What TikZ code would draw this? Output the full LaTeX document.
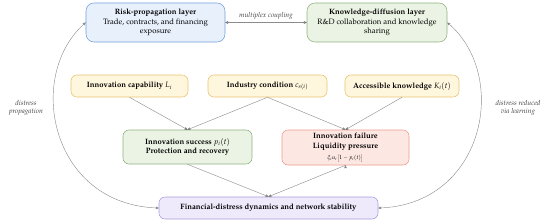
\documentclass[tikz,border=0pt]{standalone}
\usepackage[T1]{fontenc}
\usepackage{mathpazo}
\usetikzlibrary{arrows,positioning}

\definecolor{bluefill}{HTML}{E8F0FC}
\definecolor{blueline}{HTML}{6F9FDB}
\definecolor{greenfill}{HTML}{EBF3E4}
\definecolor{greenline}{HTML}{8FB27C}
\definecolor{yellowfill}{HTML}{FFF6DE}
\definecolor{yellowline}{HTML}{E8C46E}
\definecolor{redfill}{HTML}{FDE7E3}
\definecolor{redline}{HTML}{EE9C90}
\definecolor{violetfill}{HTML}{EEEAFB}
\definecolor{violetline}{HTML}{AA9DDE}
\definecolor{linkgray}{HTML}{8C8C8C}

\begin{document}
\begin{tikzpicture}[>=stealth',x=0.05cm,y=-0.05cm,
    font=\fontsize{11}{13.5}\selectfont,
    box/.style={draw,rounded corners=0.3cm,line width=0.8pt,align=center,inner sep=2pt},
    link/.style={draw=linkgray,line width=0.6pt},
    note/.style={font=\fontsize{10}{12}\selectfont\itshape,align=center,text=black!75}]

    \useasboundingbox (0,0) rectangle (550,223);

    % layers
    \node[box, fill=bluefill, draw=blueline, rounded corners=0.4cm,
          minimum width=6.95cm, minimum height=1.95cm] (risk) at (155.5,22.5)
          {\textbf{Risk-propagation layer}\\Trade, contracts, and financing\\exposure};
    \node[box, fill=greenfill, draw=greenline, rounded corners=0.4cm,
          minimum width=7cm, minimum height=1.95cm] (know) at (377,22.5)
          {\textbf{Knowledge-diffusion layer}\\R\&D collaboration and knowledge\\sharing};

    % drivers
    \node[box, fill=yellowfill, draw=yellowline, minimum width=5.85cm, minimum height=1.1cm]
          (cap) at (129.5,86) {\textbf{Innovation capability} $L_i$};
    \node[box, fill=yellowfill, draw=yellowline, minimum width=5.95cm, minimum height=1.1cm]
          (ind) at (267.5,86) {\textbf{Industry condition} $c_{s(i)}$};
    \node[box, fill=yellowfill, draw=yellowline, minimum width=5.7cm, minimum height=1.1cm]
          (acc) at (402,86) {\textbf{Accessible knowledge} $K_i(t)$};

    % outcomes
    \node[box, fill=greenfill, draw=greenline, minimum width=6.45cm, minimum height=1.7cm]
          (succ) at (187.5,147) {\textbf{Innovation success} $p_i(t)$\\\textbf{Protection and recovery}};
    \node[box, fill=redfill, draw=redline, minimum width=6.35cm, minimum height=1.75cm]
          (fail) at (345.5,147.5) {\textbf{Innovation failure}\\\textbf{Liquidity pressure}\\[2.5pt]
          {\fontsize{8}{9}\selectfont$\xi_i u_i\big[1-p_i(t)\big]$}};

    \node[box, fill=violetfill, draw=violetline, minimum width=10.95cm, minimum height=1.1cm]
          (fin) at (268.5,208) {\textbf{Financial-distress dynamics and network stability}};

    \node[note] (lprop) at (26,108) {distress\\propagation};
    \node[note] (rlearn) at (518,108) {distress reduced\\via learning};

    \path[link,->]
    (risk) edge[<->] node[note,above=1pt] {multiplex coupling} (know)
    (cap.south) edge (succ.north)
    (ind.south) edge (succ.north)
    (ind.south) edge (fail.north)
    (acc.south) edge (fail.north)
    (succ.south) edge (fin.north)
    (fail.south) edge (fin.north)
    ;

    \draw[link,<->] (fin.west) .. controls (50,205) and (25,75) .. (risk.west);
    \draw[link,<->] (fin.east) .. controls (485,205) and (510,75) .. (know.east);
\end{tikzpicture}
\end{document}
